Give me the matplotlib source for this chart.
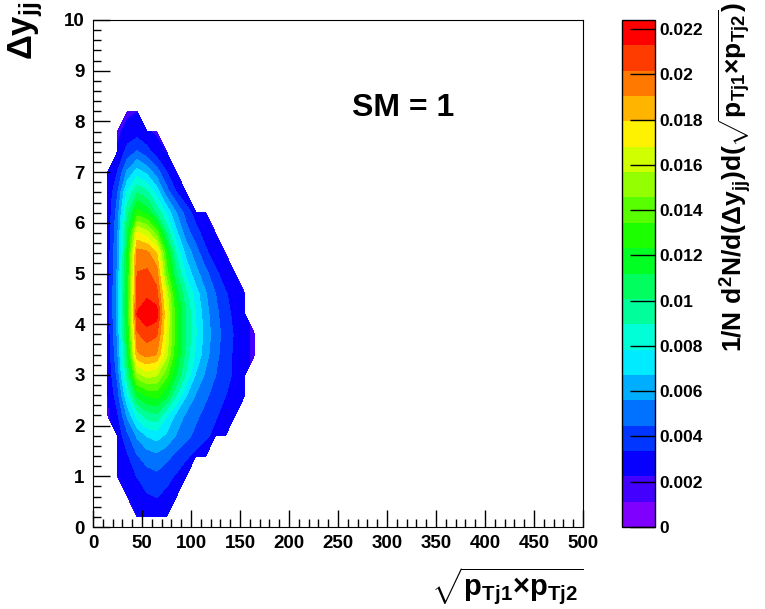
import numpy as np
import matplotlib
matplotlib.use('Agg')
import matplotlib.pyplot as plt
from matplotlib.colors import ListedColormap, hsv_to_rgb

# 글꼴 설정
plt.rcParams['font.family'] = ['Liberation Sans', 'DejaVu Sans']
plt.rcParams['font.weight'] = 'bold'
plt.rcParams['mathtext.fontset'] = 'custom'
plt.rcParams['mathtext.rm'] = 'Liberation Sans:bold'
plt.rcParams['mathtext.it'] = 'Liberation Sans:bold'
plt.rcParams['mathtext.bf'] = 'Liberation Sans:bold'

# 빈 중심 (x: sqrt(pT1*pT2), y: delta y_jj)
x_centers = [5, 15, 25, 35, 45, 55, 65, 75, 85, 95, 105, 115, 125, 135, 145, 155, 165]
y_centers = [0.2, 0.6, 1.0, 1.4, 1.8, 2.2, 2.6, 3.0, 3.4, 3.8, 4.2,
             4.6, 5.0, 5.4, 5.8, 6.2, 6.6, 7.0, 7.4, 7.8, 8.2, 8.6]

# 빈 값 (단위 1e-4), 행 = y
z_rows = [
    [0, 0, 0, 0, 22, 26, 28, 24, 0, 0, 0, 0, 0, 0, 0, 0, 0],
    [0, 0, 0, 22, 28, 32, 34, 30, 23, 0, 0, 0, 0, 0, 0, 0, 0],
    [0, 0, 22, 28, 34, 40, 42, 38, 32, 24, 0, 0, 0, 0, 0, 0, 0],
    [0, 0, 24, 32, 44, 50, 53, 48, 42, 36, 30, 24, 0, 0, 0, 0, 0],
    [0, 0, 26, 42, 58, 68, 72, 65, 55, 48, 42, 36, 30, 23, 0, 0, 0],
    [0, 20, 32, 58, 82, 95, 98, 80, 64, 54, 47, 41, 35, 29, 23, 0, 0],
    [0, 22, 40, 78, 115, 125, 128, 115, 90, 68, 55, 47, 40, 34, 28, 23, 0],
    [0, 24, 48, 98, 152, 162, 158, 138, 112, 88, 66, 54, 45, 38, 31, 24, 0],
    [0, 25, 54, 110, 188, 194, 190, 160, 124, 96, 76, 60, 48, 39, 31, 25, 20],
    [0, 26, 58, 118, 200, 207, 203, 166, 128, 100, 79, 62, 50, 40, 32, 25, 20],
    [0, 28, 60, 122, 214, 222, 218, 168, 128, 100, 78, 60, 48, 38, 30, 24, 0],
    [0, 28, 60, 122, 205, 210, 205, 162, 118, 92, 72, 57, 45, 35, 28, 22, 0],
    [0, 28, 58, 120, 202, 204, 196, 140, 102, 76, 60, 48, 36, 28, 22, 0, 0],
    [0, 27, 56, 116, 196, 194, 180, 128, 88, 64, 50, 36, 28, 22, 0, 0, 0],
    [0, 26, 54, 110, 170, 162, 140, 100, 70, 50, 38, 28, 22, 0, 0, 0, 0],
    [0, 25, 50, 96, 128, 120, 98, 76, 56, 40, 28, 22, 0, 0, 0, 0, 0],
    [0, 24, 44, 80, 100, 92, 74, 50, 34, 23, 0, 0, 0, 0, 0, 0, 0],
    [0, 22, 34, 58, 72, 64, 50, 34, 22, 0, 0, 0, 0, 0, 0, 0, 0],
    [0, 0, 24, 38, 46, 38, 28, 22, 0, 0, 0, 0, 0, 0, 0, 0, 0],
    [0, 0, 20, 26, 28, 24, 20, 0, 0, 0, 0, 0, 0, 0, 0, 0, 0],
    [0, 0, 0, 20, 22, 0, 0, 0, 0, 0, 0, 0, 0, 0, 0, 0, 0],
    [0, 0, 0, 0, 0, 0, 0, 0, 0, 0, 0, 0, 0, 0, 0, 0, 0],
]

# 컬러바 눈금
cbar_ticks = [0, 0.002, 0.004, 0.006, 0.008, 0.01, 0.012, 0.014, 0.016, 0.018, 0.02, 0.022]
cbar_labels = ['0', '0.002', '0.004', '0.006', '0.008', '0.01', '0.012',
               '0.014', '0.016', '0.018', '0.02', '0.022']
z_max = 0.0224
n_levels = 20

# 값 배열, 빈 칸은 마스크
z = np.array(z_rows, dtype=float) * 1e-4
z = np.ma.masked_where(z <= 0, z)

# ROOT 무지개 팔레트
hues = np.linspace(270, 0, n_levels) / 360.0
band_colors = [hsv_to_rgb((h, 1.0, 1.0)) for h in hues]
cmap = ListedColormap(band_colors)
levels = np.linspace(0, z_max, n_levels + 1)

# 그림 생성
fig = plt.figure(figsize=(7.65, 6.09), dpi=100)
ax = fig.add_axes([93 / 765, 1 - 527 / 609, 490 / 765, 507 / 609])
cax = fig.add_axes([622 / 765, 1 - 527 / 609, 33 / 765, 507 / 609])

cs = ax.contourf(x_centers, y_centers, z, levels=levels, cmap=cmap)

# 축 범위와 눈금
ax.set_xlim(0, 500)
ax.set_ylim(0, 10)
ax.set_xticks(np.arange(0, 501, 50))
ax.set_xticks(np.arange(0, 501, 10), minor=True)
ax.set_yticks(np.arange(0, 11, 1))
ax.set_yticks(np.arange(0, 10.01, 0.2), minor=True)
ax.tick_params(which='both', direction='in', top=False, right=False, width=1)
ax.tick_params(which='major', length=12, labelsize=13.5, pad=6)
ax.tick_params(which='minor', length=6)
for lab in ax.get_xticklabels() + ax.get_yticklabels():
    lab.set_fontweight('bold')

# 글자
ax.text(316, 8.26, 'SM = 1', fontsize=23, fontweight='bold', ha='center', va='center')
fig.text(0.762, 0.003,
         r'$\sqrt{\mathbf{p}_{\mathbf{Tj1}}{\times}\mathbf{p}_{\mathbf{Tj2}}}$',
         fontsize=21, ha='right', va='bottom')
fig.text(0.033, 0.998, r'$\Delta\mathbf{y}_{\mathbf{jj}}$', fontsize=25,
         rotation=90, ha='center', va='top')

# 컬러바
cb = fig.colorbar(cs, cax=cax, ticks=cbar_ticks)
cb.ax.set_yticklabels(cbar_labels)
cb.ax.tick_params(direction='in', length=18, width=1, labelsize=12.5, pad=3)
for lab in cb.ax.get_yticklabels():
    lab.set_fontweight('bold')
cb.outline.set_linewidth(1)
fig.text(0.96, 0.998,
         r'$\mathbf{1/N\ d^{2}N/d(\Delta y_{jj})d(\sqrt{p_{Tj1}{\times}p_{Tj2}})}$',
         fontsize=19, rotation=90, ha='center', va='top')

fig.savefig('out.png', dpi=100)
